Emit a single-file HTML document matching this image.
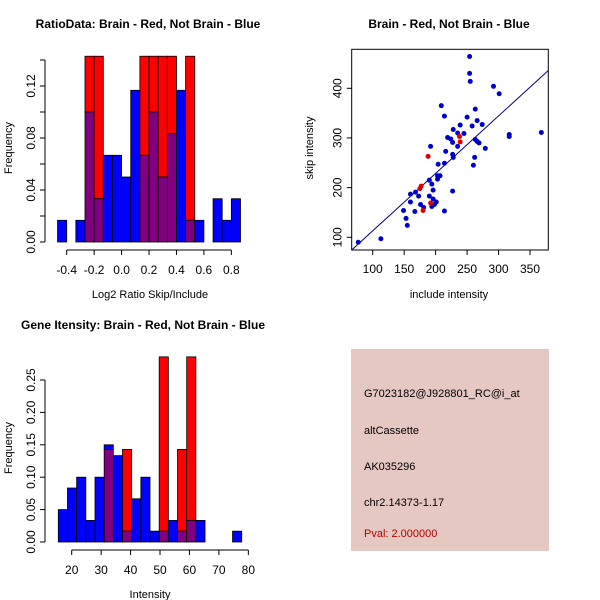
<!DOCTYPE html>
<html><head><meta charset="utf-8"><style>
body{margin:0;background:#fff;}
svg{display:block;font-family:"Liberation Sans",sans-serif;}
</style></head><body>
<svg id="c" width="600" height="600" xmlns="http://www.w3.org/2000/svg">
<rect x="0" y="0" width="600" height="600" fill="#fff"/>
<g id="p1"></g>
<g id="p2"></g>
<g id="p3"></g>
<g id="p4">
<rect x="351" y="349" width="198" height="202" fill="#e6c8c2"/>
<text x="364" y="397" font-size="11" fill="#000">G7023182@J928801_RC@i_at</text>
<text x="364" y="434" font-size="11" fill="#000">altCassette</text>
<text x="364" y="470" font-size="11" fill="#000">AK035296</text>
<text x="364" y="506" font-size="11" fill="#000">chr2.14373-1.17</text>
<text x="364" y="537" font-size="11" fill="#b00000">Pval: 2.000000</text>
</g>
</svg>
<script>
// ---- Histogram 1 data ----
const ratioBinStart = -0.4667;
const ratioBinWidth = 0.06667;
const ratioBlue = [0.0167,0,0.0167,0.1,0.0333,0.0667,0.0667,0.05,0.1167,0.0667,0.1,0.05,0.0833,0.1167,0.0167,0.0167,0,0.0333,0.0167,0.0333];
const ratioRed = [0,0,0,0.1429,0.1429,0,0,0,0,0.1429,0.1429,0.1429,0.1429,0,0.1429,0,0,0,0,0];
const ratioXTicks = [-0.4,-0.2,0.0,0.2,0.4,0.6,0.8];
const ratioXLabels = ["-0.4","-0.2","0.0","0.2","0.4","0.6","0.8"];
const ratioYTicks = [0,0.02,0.04,0.06,0.08,0.10,0.12,0.14];
const ratioYLabels = ["0.00","","0.04","","0.08","","0.12",""];
// ---- Scatter data ----
const blueInclude = [77,113,149,153,155,160,160,167,168,173,176,181,190,190,192,194,196,194,196,198,201,203,203,207,204,209,214,214,214,216,219,224,227,228,227,228,227,235,235,239,245,250,254,254,255,258,260,262,263,263,266,266,269,274,279,292,301,317,317,368];
const blueSkip = [90,97,154,138,124,171,187,152,191,183,166,160,183,215,283,207,195,162,177,166,171,217,224,224,247,365,344,153,249,273,301,298,291,317,267,261,193,283,310,326,309,342,464,430,414,324,245,261,358,297,335,293,290,327,279,404,389,303,307,311];
const redInclude = [188,175,177,192,180,238,239];
const redSkip = [263,198,203,169,154,303,292];
const fitSlope = 1.157;
const fitIntercept = -2.7;
const scXTicks = [100,150,200,250,300,350];
const scYTicks = [100,200,300,400];
// ---- Histogram 2 data ----
const intBinStart = 15.45;
const intBinWidth = 3.115;
const intBlue = [0.05,0.0833,0.1,0.0333,0.1,0.15,0.1333,0.0167,0.0667,0.1,0.0167,0.0167,0.0333,0.0167,0.0333,0.0333,0,0,0,0.0167];
const intRed = [0,0,0,0,0,0.1429,0,0.1429,0,0,0,0.2857,0,0.1429,0.2857,0,0,0,0,0];
const intXTicks = [20,30,40,50,60,70,80];
const intYTicks = [0,0.05,0.10,0.15,0.20,0.25];
const intYLabels = ["0.00","0.05","0.10","0.15","0.20","0.25"];

const NS="http://www.w3.org/2000/svg";
function mk(parent,tag,attrs,text){const e=document.createElementNS(NS,tag);for(const k in attrs)e.setAttribute(k,attrs[k]);if(text!==undefined)e.textContent=text;parent.appendChild(e);return e;}

function hist(g,o){
  const sx=v=>o.x0+(v-o.v0)*o.kx, sy=v=>o.y0-v*o.ky;
  const n=o.blue.length;
  for(let i=0;i<n;i++){
    const a=o.start+i*o.width,b=a+o.width;
    const xa=sx(a),xb=sx(b);
    const bl=o.blue[i],rd=o.red[i],mn=Math.min(bl,rd),mx=Math.max(bl,rd);
    if(mx<=0)continue;
    const top=mk(g,'rect',{x:xa,y:sy(mx),width:xb-xa,height:sy(mn)-sy(mx),fill:rd>bl?'#ff0000':'#0000ff',stroke:'#000','stroke-width':0.8});
    
    
    if(mn>0){const p=mk(g,'rect',{x:xa,y:sy(mn),width:xb-xa,height:sy(0)-sy(mn),fill:'#800080',stroke:'#000','stroke-width':0.8});
      
      }
  }
  const xa=mk(g,'line',{x1:sx(o.xt[0]),x2:sx(o.xt[o.xt.length-1]),y1:o.axY,y2:o.axY,stroke:'#000'});
  
  
  o.xt.forEach((t,i)=>{mk(g,'line',{x1:sx(t),x2:sx(t),y1:o.axY,y2:o.axY+5,stroke:'#000'});
    const l=mk(g,'text',{x:sx(t),y:o.axY+24,'font-size':12,'text-anchor':'middle'},o.xl[i]);
    
    });
  const ya=mk(g,'line',{x1:o.axX,x2:o.axX,y1:sy(o.yt[0]),y2:sy(o.yt[o.yt.length-1]),stroke:'#000'});
  
  
  o.yt.forEach((t,i)=>{mk(g,'line',{x1:o.axX-5,x2:o.axX,y1:sy(t),y2:sy(t),stroke:'#000'});
    if(o.yl[i]){const l=mk(g,'text',{x:0,y:0,'font-size':12,'text-anchor':'middle',transform:`translate(${o.axX-10},${sy(t)}) rotate(-90)`},o.yl[i]);
      
      }});
  const xt=mk(g,'text',{x:o.xtX,y:o.xtY,'font-size':11,'text-anchor':'middle'},o.xTitle);
  
  
  const yt=mk(g,'text',{x:0,y:0,'font-size':11,'text-anchor':'middle',transform:`translate(12,${o.ytY}) rotate(-90)`},'Frequency');
  
  
  const ti=mk(g,'text',{x:o.tX,y:o.tY,'font-size':12,'font-weight':'bold','text-anchor':'middle'},o.title);
  
  
}

hist(document.getElementById('p1'),{start:ratioBinStart,width:ratioBinWidth,blue:ratioBlue,red:ratioRed,
  x0:66.7,v0:-0.4,kx:137.2,y0:242,ky:1300,axY:250,axX:45,xt:ratioXTicks,xl:ratioXLabels,yt:ratioYTicks,yl:ratioYLabels,
  xTitle:'Log2 Ratio Skip/Include',xtX:150,xtY:298,ytY:148,title:'RatioData: Brain - Red, Not Brain - Blue',tX:148,tY:28});

hist(document.getElementById('p3'),{start:intBinStart,width:intBinWidth,blue:intBlue,red:intRed,
  x0:71.7,v0:20,kx:2.944,y0:542,ky:648,axY:550,axX:45,xt:intXTicks,xl:intXTicks.map(String),yt:intYTicks,yl:intYLabels,
  xTitle:'Intensity',xtX:150,xtY:598,ytY:448,title:'Gene Itensity: Brain - Red, Not Brain - Blue',tX:143,tY:329});

// scatter
(function(){
  const g=document.getElementById('p2');
  const L=351.7,R=548.3,T=49.3,B=250;
  const sx=v=>372.7+(v-100)*0.6293, sy=v=>237.3-(v-100)*0.4967;
  const box=mk(g,'rect',{x:L,y:T,width:R-L,height:B-T,fill:'none',stroke:'#000'});
  
  
  const cp=mk(g,'clipPath',{id:'scClip'});mk(cp,'rect',{x:L,y:T,width:R-L,height:B-T});
  const x1=(B-237.3)/-0.4967+100; // placeholder not used
  const vx0=(L-372.7)/0.6293+100, vx1=(R-372.7)/0.6293+100;
  const fl=mk(g,'line',{x1:sx(vx0),y1:sy(fitSlope*vx0+fitIntercept),x2:sx(vx1),y2:sy(fitSlope*vx1+fitIntercept),stroke:'#00008b','stroke-width':1,'clip-path':'url(#scClip)'});
  
  
  blueInclude.forEach((v,i)=>{const c=mk(g,'circle',{cx:sx(v),cy:sy(blueSkip[i]),r:2.5,fill:'#0000cd'});
    
    });
  redInclude.forEach((v,i)=>{const c=mk(g,'circle',{cx:sx(v),cy:sy(redSkip[i]),r:2.5,fill:'#dd0000'});
    
    });
  scXTicks.forEach(t=>{mk(g,'line',{x1:sx(t),x2:sx(t),y1:B,y2:B+5,stroke:'#000'});
    const l=mk(g,'text',{x:sx(t),y:B+23,'font-size':12,'text-anchor':'middle'},String(t));
    
    });
  scYTicks.forEach(t=>{mk(g,'line',{x1:L-5,x2:L,y1:sy(t),y2:sy(t),stroke:'#000'});
    const l=mk(g,'text',{x:0,y:0,'font-size':12,'text-anchor':'middle',transform:`translate(${L-10},${sy(t)}) rotate(-90)`},String(t));
    
    });
  const xt=mk(g,'text',{x:449,y:298,'font-size':11,'text-anchor':'middle'},'include intensity');
  
  
  const yt=mk(g,'text',{x:0,y:0,'font-size':11,'text-anchor':'middle',transform:'translate(313,148) rotate(-90)'},'skip intensity');
  
  
  const ti=mk(g,'text',{x:449,y:28,'font-size':12,'font-weight':'bold','text-anchor':'middle'},'Brain - Red, Not Brain - Blue');
  
  
})();
</script>
</body></html>
